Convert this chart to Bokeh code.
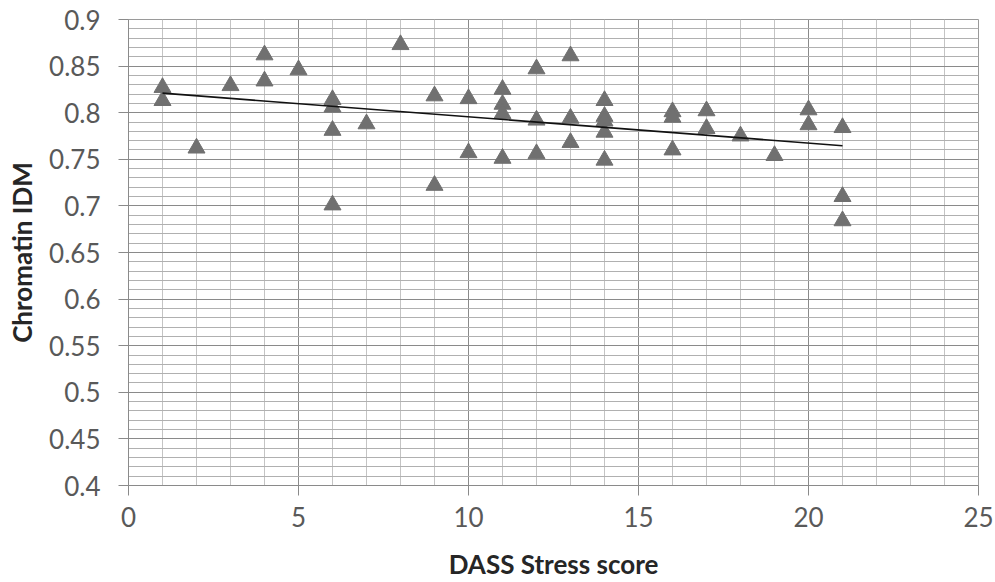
import numpy as np
from bokeh.plotting import figure
from bokeh.models import SingleIntervalTicker, Range1d, ColumnDataSource, CustomJSTickFormatter
from bokeh.embed import file_html
from bokeh.resources import INLINE

# ---- data ----
stress_score = [1, 1, 2, 3, 4, 4, 5, 6, 6, 6, 6, 7, 8, 9, 9, 10, 10,
                11, 11, 11, 11, 12, 12, 12, 13, 13, 13, 14, 14, 14, 14, 14,
                16, 16, 16, 17, 17, 18, 19, 20, 20, 21, 21, 21]
chromatin_idm = [0.827, 0.813, 0.762, 0.829, 0.862, 0.834, 0.846,
                 0.814, 0.806, 0.781, 0.701, 0.788, 0.873, 0.818, 0.722,
                 0.815, 0.757, 0.825, 0.809, 0.799, 0.751, 0.847, 0.792,
                 0.756, 0.861, 0.794, 0.768, 0.813, 0.796, 0.791, 0.779,
                 0.749, 0.801, 0.795, 0.760, 0.802, 0.783, 0.775, 0.754,
                 0.803, 0.787, 0.784, 0.710, 0.684]
x_label = "DASS Stress score"
y_label = "Chromatin IDM"

FONT = "Lato"

p = figure(width=995, height=582, output_backend="svg", toolbar_location=None,
           x_range=Range1d(0, 25), y_range=Range1d(0.4, 0.9),
           min_border_left=128, min_border_right=17, min_border_top=19,
           min_border_bottom=96, background_fill_color="white",
           border_fill_color="white")
p.outline_line_color = "#9a9a9a"

# tickers / grid
p.xaxis.ticker = SingleIntervalTicker(interval=5, num_minor_ticks=5)
p.yaxis.ticker = SingleIntervalTicker(interval=0.05, num_minor_ticks=5)
p.yaxis.formatter = CustomJSTickFormatter(code="return (Math.round(tick*100)/100).toString();")

p.xgrid.grid_line_color = "#8a8a8a"
p.xgrid.minor_grid_line_color = "#c4c4c4"
p.ygrid.grid_line_color = "#8a8a8a"
p.ygrid.minor_grid_line_color = "#b0b0b0"
for g in (p.xgrid, p.ygrid):
    g.grid_line_width = 1
    g.minor_grid_line_width = 1

for ax in (p.xaxis, p.yaxis):
    ax.axis_line_color = "#8a8a8a"
    ax.major_tick_line_color = "#8a8a8a"
    ax.minor_tick_line_color = None
    ax.major_tick_in = 0
    ax.major_tick_out = 10
    ax.major_label_text_font = FONT
    ax.major_label_text_font_size = "26px"
    ax.major_label_text_color = "#595959"
    ax.axis_label_text_font = FONT
    ax.axis_label_text_font_size = "26px"
    ax.axis_label_text_font_style = "bold"
    ax.axis_label_text_color = "#262626"

p.xaxis.axis_label = x_label
p.yaxis.axis_label = y_label
p.xaxis.major_label_standoff = 11
p.xaxis.axis_label_standoff = 18
p.yaxis.major_label_standoff = 18
p.yaxis.axis_label_standoff = 8

src = ColumnDataSource(dict(x=stress_score, y=chromatin_idm))
p.scatter("x", "y", source=src, marker="triangle", size=17,
          fill_color="#707070", line_color="#707070")

# linear trendline
xs = np.array(stress_score, dtype=float)
ys = np.array(chromatin_idm, dtype=float)
slope, intercept = np.polyfit(xs, ys, 1)
tx = [xs.min(), xs.max()]
ty = [slope * v + intercept for v in tx]
p.line(tx, ty, line_color="#111111", line_width=1.6)

open("out.html", "w").write(file_html(p, INLINE))
